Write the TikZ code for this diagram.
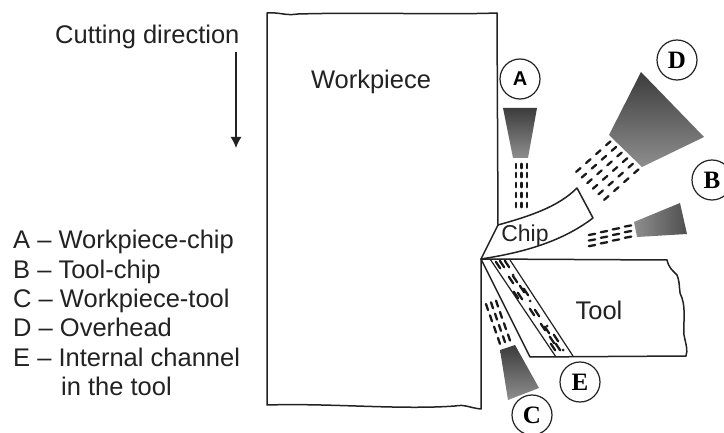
\documentclass[tikz,border=0pt]{standalone}
\usepackage{fontspec}
\setmainfont{Liberation Sans}
\usetikzlibrary{arrows.meta,positioning,shapes.geometric}
\definecolor{inktone}{HTML}{222222}
\definecolor{jetdark}{HTML}{3C3C3C}
\definecolor{jetlight}{HTML}{8E8E8E}
\newfontfamily\markfont{Liberation Serif}
\tikzset{
    outline/.style={line width=1.5pt, inktone, line join=round},
    jetdash/.style={line width=2.3pt, black!90, line cap=round},
    heatmark/.style={circle, draw=inktone, line width=1.2pt, minimum size=40pt, inner sep=0pt, font=\fontsize{25}{25}\selectfont\markfont\bfseries},
    textlabel/.style={inktone, font=\fontsize{25.5}{29.4}\selectfont, inner sep=0pt}
}
\begin{document}
\begin{tikzpicture}[x=1pt,y=-1pt]
    \useasboundingbox (0,0) rectangle (724,433);
    \fill[white] (0,0) rectangle (724,433);

    % Workpiece
    \draw[outline] (481,259) -- (481,409) .. controls (470,408) and (465,404) .. (455,406)
        .. controls (400,410) and (330,403) .. (267,405) -- (267,13)
        .. controls (280,12) and (285,16) .. (298,14) .. controls (370,12) and (440,15) .. (497,13)
        -- (498,225) -- cycle;

    % Chip
    \draw[outline] (498,225) .. controls (530,216) and (558,207) .. (577,188) -- (593,218)
        .. controls (560,243) and (520,253) .. (481,259);

    % Tool
    \draw[outline] (481,259) -- (667,260) .. controls (669,268) and (672,270) .. (677,275)
        .. controls (681,285) and (678,292) .. (682,298) .. controls (686,310) and (683,325) .. (684,335)
        .. controls (686,345) and (688,350) .. (686,356) -- (530,357) -- cycle;
    \draw[outline, line width=1.2pt] (490,259) -- (556,357);
    \draw[outline, line width=1.2pt] (510,260) -- (573,356);

    % Internal channel
    \foreach \x/\y in {498/265,502/264,507/264,511/280,515/279,522/289,526/292,520/296,516/295,532/312,537/313,543/327,547/330,552/340,556/338,553/347,558/347} {
        \draw[jetdash] ({\x-2.2},{\y-3.3}) -- ({\x+2.2},{\y+3.3});
    }
    \foreach \x/\y in {513/275,530/301,547/326,563/350} {
        \fill[inktone] (\x,\y) circle (1.5);
    }

    % Jets
    \shade[top color=jetdark, bottom color=jetlight] (503,108) -- (537,108) -- (528,158) -- (513,158) -- cycle;
    \shade[top color=jetdark, bottom color=jetlight] (641,72) -- (704,137) -- (642,167) -- (609,135) -- cycle;
    \shade[left color=jetlight, right color=jetdark!90] (634,222) -- (680,203) -- (687,234) -- (637,237) -- cycle;
    \shade[top color=jetdark, bottom color=jetlight] (500,350) -- (515,345) -- (539,388) -- (508,400) -- cycle;

    % Dashes
    \foreach \c in {0,1,2} {
        \foreach \r in {166,175,185,195,205} {
            \draw[jetdash] ({516+5.5*\c},{\r-2.2}) -- ({516+5.5*\c},{\r+2.2});
        }
    }
    \foreach \r in {0,...,3} {
        \foreach \c in {0,...,5} {
            \draw[jetdash, shift={({608.3-10*\r+5.6*\c},{143.3+8.9*\r+5.6*\c})}] (-2.2,1.9) -- (2.2,-1.9);
        }
    }
    \foreach \c in {0,...,3} {
        \foreach \r in {0,1,2} {
            \draw[jetdash, shift={({628-12*\c},{226+2.8*\c+5.6*\r})}] (-3.2,0.6) -- (3.2,-0.6);
        }
    }
    \foreach \r in {0,...,3} {
        \foreach \c in {0,1,2} {
            \draw[jetdash, shift={({487+4*\r+5*\c},{307+11.3*\r-1.7*\c})}] (-1,-3) -- (1,3);
        }
    }

    % Marks
    \node[heatmark, font=\fontsize{20}{20}\selectfont\bfseries] (markA) at (520,79) {A};
    \node[heatmark] (markB) at (712,180) {B};
    \node[heatmark] (markC) at (532,415) {C};
    \node[heatmark] (markD) at (677,60) {D};
    \node[heatmark] (markE) at (580,382) {E};

    % Labels
    \node[textlabel] (workpiecelabel) at (371,82) {Workpiece};
    \node[textlabel, font=\fontsize{23}{23}\selectfont] (chiplabel) at (525,236) {Chip};
    \node[textlabel] (toollabel) at (599,310) {Tool};
    \node[textlabel, anchor=west] (cutlabel) at (55,37) {Cutting direction};
    \coordinate (cuttip) at (236,148);
    \draw[-{Latex[length=11pt,width=11pt]}, line width=1.3pt, inktone] (cuttip |- cutlabel.south) ++(0,3) -- (cuttip);

    % Legend
    \node[textlabel, anchor=north west, align=left] (legendlabel) at (13,230) {A -- Workpiece-chip\\B -- Tool-chip\\C -- Workpiece-tool\\D -- Overhead\\E -- Internal channel\\\hspace*{48pt}in the tool};
\end{tikzpicture}
\end{document}
